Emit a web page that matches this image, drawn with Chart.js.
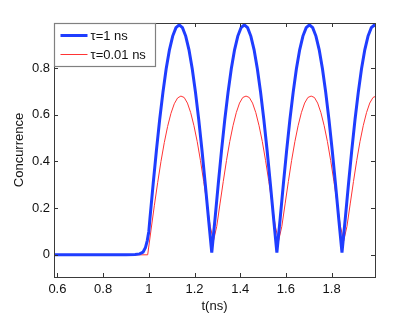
<!DOCTYPE html>
<html>
<head>
<meta charset="utf-8">
<script src="https://cdn.jsdelivr.net/npm/chart.js@4.4.1/dist/chart.umd.min.js"></script>
<style>
html,body{margin:0;padding:0;background:#fff;}
#wrap{width:415px;height:313px;}
</style>
</head>
<body>
<div id="wrap"><canvas id="c" width="415" height="313"></canvas></div>
<script>
// ---- data ----
const seriesLabels = ['\u03c4=1 ns', '\u03c4=0.01 ns'];
const xTickValues = [0.6, 0.8, 1.0, 1.2, 1.4, 1.6, 1.8];
const xTickLabels = ['0.6', '0.8', '1', '1.2', '1.4', '1.6', '1.8'];
const yTickValues = [0, 0.2, 0.4, 0.6, 0.8];
const yTickLabels = ['0', '0.2', '0.4', '0.6', '0.8'];
const xRange = [0.585, 1.99];
const yRange = [-0.095, 0.993];

const tBlue = [0.585, 0.90, 0.94, 0.96, 0.975, 0.985, 0.993, 1.0,
  1.0048, 1.019, 1.0333, 1.0475, 1.0618, 1.076, 1.0903, 1.1045, 1.1188, 1.133,
  1.1473, 1.1615, 1.1758, 1.19, 1.2043, 1.2185, 1.2328, 1.247, 1.2613, 1.2755,
  1.2898, 1.304, 1.3183, 1.3325, 1.3468, 1.361, 1.3753, 1.3895, 1.4038, 1.418,
  1.4323, 1.4465, 1.4608, 1.475, 1.4893, 1.5035, 1.5178, 1.532, 1.5463, 1.5605,
  1.5748, 1.589, 1.6033, 1.6175, 1.6318, 1.646, 1.6603, 1.6745, 1.6888, 1.703,
  1.7173, 1.7315, 1.7458, 1.76, 1.7743, 1.7885, 1.8028, 1.817, 1.8313, 1.8455,
  1.8598, 1.874, 1.8883, 1.9025, 1.9168, 1.931, 1.9453, 1.9595, 1.9738, 1.988, 2.0023];
const cBlue = [0, 0, 0.001, 0.004, 0.012, 0.03, 0.06, 0.1,
  0.154, 0.304, 0.447, 0.579, 0.696, 0.797, 0.878, 0.937, 0.973, 0.985,
  0.973, 0.937, 0.878, 0.797, 0.696, 0.579, 0.447, 0.304, 0.154, 0.01,
  0.154, 0.304, 0.447, 0.579, 0.696, 0.797, 0.878, 0.937, 0.973, 0.985,
  0.973, 0.937, 0.878, 0.797, 0.696, 0.579, 0.447, 0.304, 0.154, 0.01,
  0.154, 0.304, 0.447, 0.579, 0.696, 0.797, 0.878, 0.937, 0.973, 0.985,
  0.973, 0.937, 0.878, 0.797, 0.696, 0.579, 0.447, 0.304, 0.154, 0.01,
  0.154, 0.304, 0.447, 0.579, 0.696, 0.797, 0.878, 0.937, 0.973, 0.985, 0.973];

const tRed = [0.585, 0.995,
  1.0096, 1.0241, 1.0387, 1.0532, 1.0678, 1.0823, 1.0969, 1.1114, 1.126, 1.1405,
  1.1548, 1.169, 1.1833, 1.1975, 1.2118, 1.226, 1.2403, 1.2545, 1.2688, 1.283,
  1.2973, 1.3115, 1.3258, 1.34, 1.3543, 1.3685, 1.3828, 1.397, 1.4113, 1.4255,
  1.4398, 1.454, 1.4683, 1.4825, 1.4968, 1.511, 1.5253, 1.5395, 1.5538, 1.568,
  1.5823, 1.5965, 1.6108, 1.625, 1.6393, 1.6535, 1.6678, 1.682, 1.6963, 1.7105,
  1.7248, 1.739, 1.7533, 1.7675, 1.7818, 1.796, 1.8103, 1.8245, 1.8388, 1.853,
  1.8673, 1.8815, 1.8958, 1.91, 1.9243, 1.9385, 1.9528, 1.967, 1.9813, 1.9955];
const cRed = [0, 0,
  0.106, 0.210, 0.309, 0.400, 0.481, 0.550, 0.606, 0.647, 0.672, 0.680,
  0.674, 0.650, 0.609, 0.553, 0.485, 0.404, 0.314, 0.218, 0.122, 0.060,
  0.122, 0.218, 0.314, 0.404, 0.485, 0.553, 0.609, 0.650, 0.674, 0.680,
  0.674, 0.650, 0.609, 0.553, 0.485, 0.404, 0.314, 0.218, 0.122, 0.060,
  0.122, 0.218, 0.314, 0.404, 0.485, 0.553, 0.609, 0.650, 0.674, 0.680,
  0.674, 0.650, 0.609, 0.553, 0.485, 0.404, 0.314, 0.218, 0.122, 0.060,
  0.122, 0.218, 0.314, 0.404, 0.485, 0.553, 0.609, 0.650, 0.674, 0.680];

// ---- chart ----
const FONT = "'Liberation Sans', Arial, Helvetica, sans-serif";
const blueColor = '#1f3dff';
const redColor = '#ff3434';

const frameTicks = {
  id: 'frameTicks',
  afterDatasetsDraw(chart) {
    const {ctx, chartArea: a, scales: {x, y}} = chart;
    ctx.save();
    ctx.strokeStyle = '#333';
    ctx.lineWidth = 1;
    ctx.beginPath();
    const L = 4;
    x.ticks.forEach(t => {
      const px = Math.round(x.getPixelForValue(t.value)) + 0.5;
      ctx.moveTo(px, a.bottom); ctx.lineTo(px, a.bottom - L);
      ctx.moveTo(px, a.top); ctx.lineTo(px, a.top + L);
    });
    y.ticks.forEach(t => {
      const py = Math.round(y.getPixelForValue(t.value)) + 0.5;
      ctx.moveTo(a.left, py); ctx.lineTo(a.left + L, py);
      ctx.moveTo(a.right, py); ctx.lineTo(a.right - L, py);
    });
    ctx.stroke();
    ctx.strokeStyle = '#3a3a3a';
    ctx.strokeRect(Math.round(a.left) + 0.5, Math.round(a.top) + 0.5,
      Math.round(a.right - a.left), Math.round(a.bottom - a.top));
    ctx.restore();
  },
  afterDraw(chart) {
    // legend box inside the plot, top-left
    const {ctx, chartArea: a} = chart;
    const ds = chart.data.datasets;
    ctx.save();
    const bx = Math.round(a.left) + 0.5, by = Math.round(a.top) + 0.5;
    const bw = 101, bh = 43;
    ctx.fillStyle = '#fff';
    ctx.fillRect(bx, by, bw, bh);
    ctx.strokeStyle = '#808080';
    ctx.lineWidth = 1.2;
    ctx.strokeRect(bx, by, bw, bh);
    ctx.font = '13px ' + FONT;
    ctx.textBaseline = 'middle';
    ctx.fillStyle = '#111';
    const rows = [12, 31];
    ds.forEach((d, i) => {
      const yy = by + rows[i];
      ctx.strokeStyle = d.borderColor;
      ctx.lineWidth = d.borderWidth;
      ctx.beginPath();
      ctx.moveTo(bx + 6, yy); ctx.lineTo(bx + 33, yy);
      ctx.stroke();
      ctx.fillText(d.label, bx + 36, yy + 1);
    });
    ctx.restore();
  }
};

const chart = new Chart(document.getElementById('c'), {
  type: 'line',
  data: {
    datasets: [
      {
        label: seriesLabels[0],
        data: tBlue.map((t, i) => ({x: t, y: cBlue[i]})),
        borderColor: blueColor,
        borderWidth: 3,
        pointRadius: 0,
        tension: 0,
        fill: false
      },
      {
        label: seriesLabels[1],
        data: tRed.map((t, i) => ({x: t, y: cRed[i]})),
        borderColor: redColor,
        borderWidth: 1,
        pointRadius: 0,
        tension: 0,
        fill: false
      }
    ]
  },
  options: {
    responsive: false,
    devicePixelRatio: 1,
    animation: false,
    layout: {padding: {left: 0, top: 23, right: 40, bottom: 0}},
    plugins: {legend: {display: false}, tooltip: {enabled: false}},
    scales: {
      x: {
        type: 'linear',
        min: xRange[0], max: xRange[1],
        afterBuildTicks: s => { s.ticks = xTickValues.map(v => ({value: v})); },
        afterFit: s => { s.height = 36; },
        grid: {display: false, drawTicks: false},
        border: {display: false},
        ticks: {
          padding: 5,
          color: '#111',
          font: {family: FONT, size: 13},
          callback: (v, i) => xTickLabels[i]
        },
        title: {display: true, text: 't(ns)', color: '#111', font: {family: FONT, size: 13}, padding: {top: 0, bottom: -1}}
      },
      y: {
        type: 'linear',
        min: yRange[0], max: yRange[1],
        afterBuildTicks: s => { s.ticks = yTickValues.map(v => ({value: v})); },
        afterFit: s => { s.width = 54; },
        grid: {display: false, drawTicks: false},
        border: {display: false},
        ticks: {
          padding: 4,
          color: '#111',
          font: {family: FONT, size: 13},
          callback: (v, i) => yTickLabels[i]
        },
        title: {display: true, text: 'Concurrence', color: '#111', font: {family: FONT, size: 13}, padding: {top: 12, bottom: 0}}
      }
    }
  },
  plugins: [frameTicks]
});
</script>
</body>
</html>
